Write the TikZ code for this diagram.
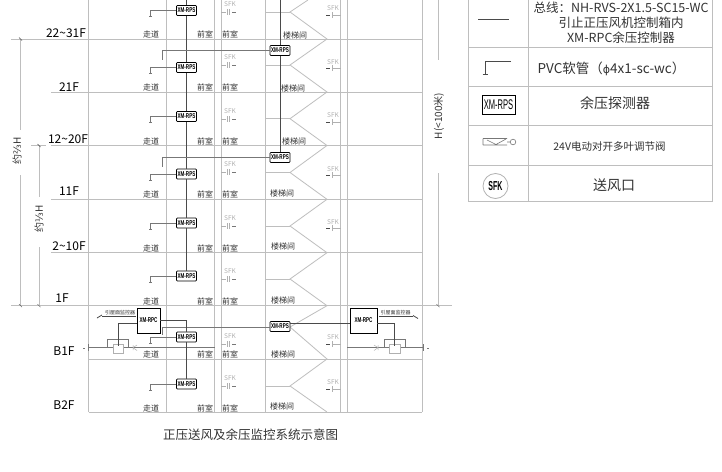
\documentclass[tikz,border=0pt]{standalone}
\usepackage{fontspec}
\setmainfont{Noto Sans CJK SC}
\newfontfamily\cond[FakeStretch=0.65]{Liberation Sans}
\newfontfamily\condn[FakeStretch=0.54]{Liberation Sans}
\newfontfamily\djv{DejaVu Sans}
\usetikzlibrary{calc}
\definecolor{gridc}{HTML}{BEBEBE}
\definecolor{wire}{HTML}{4A4A4A}
\definecolor{txt}{HTML}{333333}
\definecolor{lg}{HTML}{B0B0B0}
\definecolor{mid}{HTML}{777777}
\tikzset{
  gridline/.style={draw=gridc,line width=1pt},
  thinline/.style={draw=gridc,line width=0.8pt},
  busline/.style={draw=wire,line width=1pt},
  pvc/.style={draw=mid,line width=0.7pt},
  rpsbox/.style={draw=black,fill=white,rounded corners=0.8pt,line width=0.7pt,minimum width=20pt,minimum height=10pt,inner sep=0pt,font=\fontsize{7}{7}\selectfont\bfseries},
  rpcbox/.style={draw=black,fill=white,line width=0.9pt,minimum width=23pt,minimum height=25pt,inner sep=0pt,font=\fontsize{7}{7}\selectfont\bfseries},
  floorlab/.style={font=\fontsize{12}{13}\selectfont,text=black,inner sep=0pt},
  roomlab/.style={font=\fontsize{8}{9}\selectfont,text=txt,inner sep=0pt},
  sfklab/.style={font=\fontsize{6.5}{7}\selectfont,text=lg,inner sep=0pt},
  dimlab/.style={font=\fontsize{10}{11}\selectfont,text=txt,inner sep=0pt,rotate=90},
  legtext/.style={text=txt,inner sep=0pt,align=center},
}
\begin{document}
\begin{tikzpicture}[x=1pt,y=-1pt]
\useasboundingbox[fill=white] (0,0) rectangle (722,471);
% floor lines
\draw[gridline] (11,39)--(422,39);
\draw[gridline] (51,92)--(422,92);
\draw[gridline] (51,145.5)--(422,145.5);
\draw[gridline] (31,145.5)--(46,145.5);
\draw[gridline] (51,199.3)--(422,199.3);
\draw[gridline] (51,252.7)--(422,252.7);
\draw[gridline] (11,305.7)--(452,305.7);
\draw[gridline] (88.5,359)--(422,359);
\draw[gridline] (88.5,412)--(422,412);
% columns
\foreach \x in {88.5,214.5,221,340.5,347,422}{\draw[gridline] (\x,0)--(\x,412);}
\foreach \x in {166.5,265.5}{\draw[thinline] (\x,0)--(\x,412);}
% dimension lines
\draw[thinline] (20.5,39)--(20.5,130);
\draw[thinline] (20.5,175)--(20.5,305.7);
\draw[thinline] (39,145.5)--(39,197);
\draw[thinline] (39,247)--(39,305.7);
\draw[thinline] (438,0)--(438,60);
\draw[thinline] (438,173)--(438,305.7);
\foreach \x/\y in {20.5/39,20.5/305.7,39/145.5,39/305.7,438/305.7}{\draw[wire,line width=0.4pt] (\x-1.5,\y-1.5)--(\x+1.5,\y+1.5);}
\node[dimlab] (d23) at (17,151) {约{\djv\fontsize{10}{11}\selectfont ⅔}H};
\node[dimlab] (d13) at (39,219) {约{\djv\fontsize{10}{11}\selectfont ⅓}H};
\node[dimlab,font=\fontsize{10}{11}\selectfont] (dh) at (439,116) {H(<100米)};
% stair zigzag
\draw[thinline] (308,0)--(290,12)--(327,39)--(290,65)--(327,92)--(290,118.7)--(327,145.5)--(290,172.5)--(327,199.3)--(290,226)--(327,252.7)--(290,279)--(327,305.7)--(290,327)--(327,359)--(290,386)--(327,412);
\foreach \y in {12,65,118.7,172.5,226,279,327,386}{\draw[thinline] (265.5,\y)--(290,\y);}
% floor labels
\foreach \x/\y/\t in {66/33/22\textasciitilde31F,69/87/21F,68/139/12\textasciitilde20F,69/191/11F,69/246/2\textasciitilde10F,62/298/1F,64/351/B1F,64/405/B2F}{\node[floorlab] at (\x,\y) {\t};}
% room labels
\foreach \y in {34,87,141,194,248,301,354,408}{
  \node[roomlab] at (151,\y) {走道};
  \node[roomlab] at (205,\y) {前室};
  \node[roomlab] at (230,\y) {前室};
}
\foreach \x/\y in {295/35,293/88,294/141,282/193,283/246,283/300,283/354,282/406}{\node[roomlab] at (\x,\y) {楼梯间};}
% SFK left
\foreach \y/\s in {4/12,57/65,111/119,164/172,218/226,271/279,336/344,378/386}{
  \node[sfklab] at (230,\y) {SFK};
  \draw[draw=lg,line width=0.5pt] (221,\s)--(226,\s) (227,\s-3)--(227,\s+3) (229.5,\s-3)--(229.5,\s+3);
  \draw[draw=mid,line width=0.6pt] (232,\s)--(235.5,\s);
}
% SFK right
\foreach \y/\s in {8/15,62/68,115/122,169/175,222/228,337/344,382/389}{
  \node[sfklab] at (333,\y) {SFK};
  \draw[draw=lg,line width=0.5pt] (340.5,\s)--(332,\s) (332,\s-3)--(332,\s+3);
  \draw[draw=wire,line width=0.6pt] (329.5,\s)--(325.5,\s);
}
% ducts B1
\draw[draw=mid,line width=0.8pt] (88.5,347.7)--(214.5,347.7);
\draw[draw=mid,line width=0.8pt] (347,347.7)--(423,347.7);
\draw[mid,line width=0.6pt] (107,347.7)--(107,339)--(128,339)--(128,347.7);
\draw[mid,line width=0.6pt] (384,347.7)--(384,339)--(405.5,339)--(405.5,347.7);
\draw[lg,fill=white,line width=0.7pt] (113,344) rectangle (123,353);
\draw[lg,fill=white,line width=0.7pt] (389,344) rectangle (400,353);
\draw[mid,line width=0.6pt] (88.5,344)--(88.5,351) (83,348)--(85,348) (423,344)--(423,351) (427,348)--(429,348);
\draw[lg,line width=0.5pt] (133,345)--(133,350) (133,347.7)--(137,345) (133,347.7)--(137,350.5);
\draw[lg,line width=0.5pt] (378,345)--(378,350) (378,347.7)--(374,345) (378,347.7)--(374,350.5);
% risers with sensors
\foreach \n/\y in {a/10.5,b/67.5,c/116.5,d/174,e/223,f/276,g/337,h/384}{\node[rpsbox] (s\n) at (186.5,\y) {\cond XM-RPS};}
\node[rpsbox] (p1) at (280,50.5) {\cond XM-RPS};
\node[rpsbox] (p2) at (280,157.5) {\cond XM-RPS};
\node[rpsbox] (p3) at (280,326.5) {\cond XM-RPS};
\node[rpcbox] (rl) at (148.5,320.5) {\cond XM-RPC};
\node[rpcbox,minimum width=27pt] (rr) at (363.5,320.5) {\cond XM-RPC};
\coordinate (ta) at (186.5,0);
\coordinate (tb) at (280,0);
\draw[busline] (ta)--(sa) (sa)--(sb) (sb)--(sc) (sc)--(sd) (sd)--(se) (se)--(sf) (sg)--(sh);
\draw[busline] (tb)--(p1) (p1)--(p2);
% branches
\foreach \n/\y in {a/10.5,b/67.5,c/116.5,d/174,e/223,f/276,g/337,h/384}{
  \coordinate (bend\n) at (150.5,\y);
  \coordinate (end\n) at (150.5,\y+6);
  \draw[pvc] (s\n.west)--(bend\n)--(end\n);
  \draw[pvc] ($(end\n)+(-1.2,0)$)--($(end\n)+(1.2,0)$);
}
\coordinate (q1) at (162,50.5); \coordinate (q1e) at (162,60);
\coordinate (q2) at (162,157.5); \coordinate (q2e) at (162,167);
\coordinate (q3) at (162,327.3); \coordinate (q3e) at (162,335);
\draw[pvc] (p1.west)--(q1)--(q1e);
\draw[pvc] (p2.west)--(q2)--(q2e);
\draw[pvc] (p3.west |- 0,327.3)--(q3)--(q3e);
\draw[busline] (rl.east |- 0,320)-|(sg.north);
\draw[busline] (rl.west |- 0,323)-|(118.5,346);
\draw[busline] (p3.east |- 0,323.5)--(rr.west |- 0,323.5);
\draw[busline] (rr.east |- 0,323.5)-|(394,346);
% roof labels
\node[font=\fontsize{5}{5}\selectfont,text=txt,inner sep=0pt] (ll) at (120,313) {引屋面监控器};
\draw[wire,line width=0.5pt] (102,316)--(136,316);
\draw[wire,line width=0.8pt] (97,318)--(102,315);
\node[font=\fontsize{5}{5}\selectfont,text=txt,inner sep=0pt] (lr) at (395.5,313) {引屋面监控器};
\draw[wire,line width=0.5pt] (379,316)--(413,316);
\draw[wire,line width=0.8pt] (413,315.5)--(418,318.5);
% legend
\draw[gridc,line width=1pt] (468,0)--(468,201)--(712.5,201)--(712.5,0);
\draw[gridc,line width=1pt] (528.5,0)--(528.5,201);
\foreach \y in {47.7,86.7,125.7,165}{\draw[gridc,line width=1pt] (468,\y)--(712.5,\y);}
\draw[wire,line width=0.9pt] (478,19.5)--(509,19.5);
\node[legtext,font=\fontsize{12.5}{15}\selectfont] (t1) at (621,23) {总线：NH-RVS-2X1.5-SC15-WC\\引止正压风机控制箱内\\XM-RPC余压控制器};
\draw[wire,line width=0.7pt] (511,61.5)--(485,61.5)--(485,74) (482.5,74.5)--(488,74.5);
\node[legtext,font=\fontsize{13.5}{15}\selectfont] (t2) at (611.5,69) {PVC软管（{\djv\fontsize{11}{12}\selectfont ϕ}4x1-sc-wc）};
\node[draw=black,line width=1pt,minimum width=33pt,minimum height=19pt,inner sep=0pt,font=\fontsize{14}{14}\selectfont] (lrps) at (498.5,105) {\condn XM-RPS};
\node[legtext,font=\fontsize{14}{15}\selectfont] (t3) at (615,103.5) {余压探测器};
\draw[mid,line width=0.6pt] (483,138.5)--(507,138.5) (483,145)--(507,145) (483,138.5)--(483,145) (487,140)--(496,144.5)--(506,139) (507,142)--(510,142);
\draw[mid,line width=0.6pt] (513,142) circle (2.8);
\node[legtext,font=\fontsize{10.5}{12}\selectfont] (t4) at (609.5,147) {24V电动对开多叶调节阀};
\node[draw=lg,line width=0.8pt,circle,minimum size=25pt,inner sep=0pt,font=\fontsize{13}{13}\selectfont\bfseries] (lsfk) at (495.5,186) {\condn SFK};
\node[legtext,font=\fontsize{14}{15}\selectfont] (t5) at (614,185) {送风口};
% caption
\node[font=\fontsize{12.5}{13}\selectfont,text=txt,inner sep=0pt] (cap) at (250.5,435) {正压送风及余压监控系统示意图};
\end{tikzpicture}
\end{document}
